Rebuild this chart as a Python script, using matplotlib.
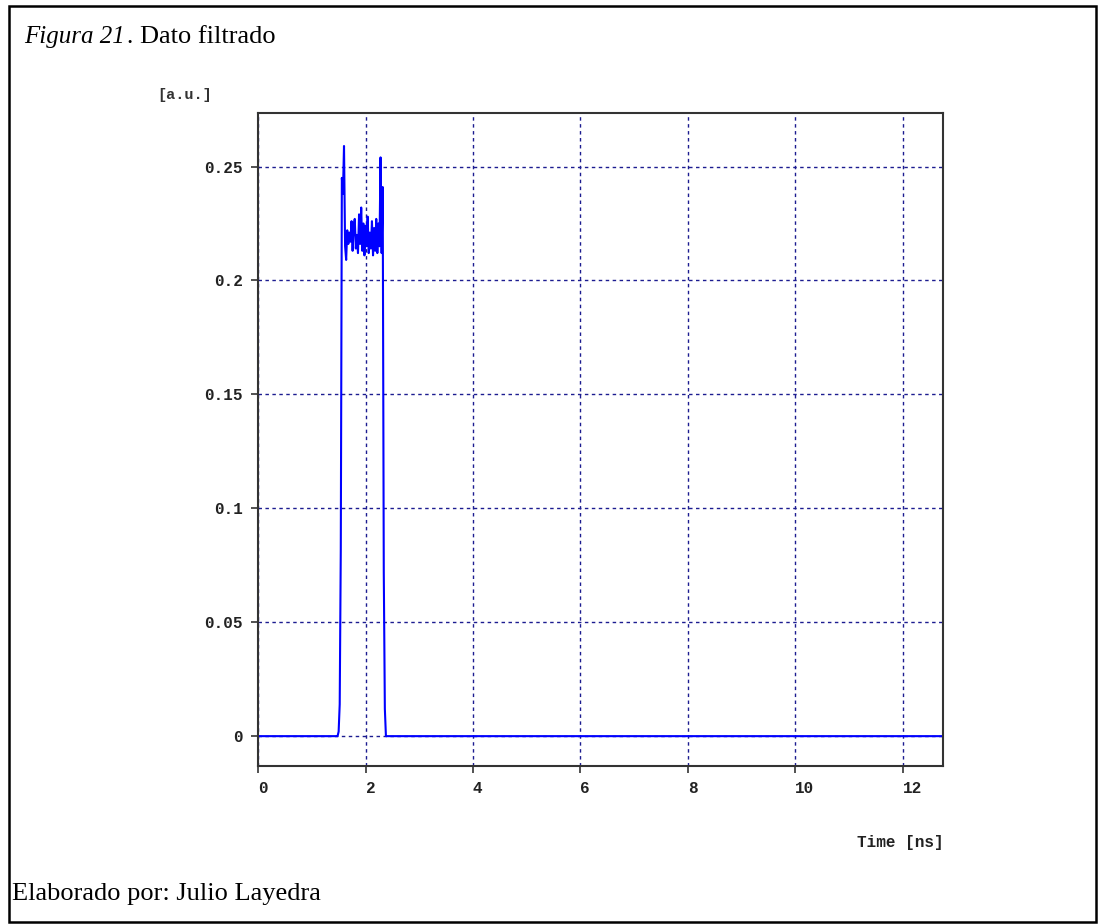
import numpy as np
import matplotlib
matplotlib.use('Agg')
import matplotlib.pyplot as plt
from matplotlib.patches import Rectangle

# filtered pulse, time in ns, amplitude in a.u.
t_pulse = [1.48, 1.50, 1.52, 1.54, 1.56, 1.58, 1.60, 1.62, 1.64, 1.66,
           1.68, 1.70, 1.72, 1.74, 1.76, 1.78, 1.80, 1.82, 1.84, 1.86,
           1.88, 1.90, 1.92, 1.94, 1.96, 1.98, 2.00, 2.02, 2.04, 2.06,
           2.08, 2.10, 2.12, 2.14, 2.16, 2.18, 2.20, 2.22, 2.24, 2.26,
           2.28, 2.30, 2.32, 2.34, 2.36, 2.38]
a_pulse = [0.000, 0.002, 0.014, 0.082, 0.245, 0.238, 0.259, 0.215, 0.209, 0.222,
           0.216, 0.221, 0.217, 0.226, 0.213, 0.224, 0.227, 0.214, 0.220, 0.212,
           0.229, 0.216, 0.232, 0.213, 0.225, 0.211, 0.224, 0.215, 0.228, 0.212,
           0.221, 0.214, 0.226, 0.211, 0.223, 0.213, 0.227, 0.212, 0.225, 0.215,
           0.254, 0.212, 0.241, 0.072, 0.012, 0.000]

t_base_start = [0.0, 1.46]
t_base_end = [2.40, 12.75]

time = np.array(t_base_start + t_pulse + t_base_end)
amp = np.array([0.0, 0.0] + a_pulse + [0.0, 0.0])

xticks = [0, 2, 4, 6, 8, 10, 12]
yticks = [0, 0.05, 0.1, 0.15, 0.2, 0.25]
ytick_labels = ['0', '0.05', '0.1', '0.15', '0.2', '0.25']

mono = 'Liberation Mono'
serif = 'Liberation Serif'

fig = plt.figure(figsize=(10.98, 9.24), dpi=100)
ax = fig.add_axes([0.235, 0.171, 0.624, 0.707])

ax.plot(time, amp, color='#0000ff', lw=1.5)

ax.set_xlim(0, 12.75)
ax.set_ylim(-0.0131, 0.2736)
ax.set_xticks(xticks)
ax.set_yticks(yticks)
ax.set_xticklabels([str(v) for v in xticks])
ax.set_yticklabels(ytick_labels)
for lbl in ax.get_xticklabels():
    lbl.set_horizontalalignment('left')
ax.tick_params(axis='both', direction='out', length=5, width=1.2, color='#333333',
               labelsize=11.5, pad=6)
for lbl in ax.get_xticklabels() + ax.get_yticklabels():
    lbl.set_fontfamily(mono)
    lbl.set_fontweight('bold')
    lbl.set_color('#222222')

ax.grid(True, color='#1c1c90', linestyle=(0, (2.5, 2.5)), lw=1.0)
for s in ax.spines.values():
    s.set_color('#333333')
    s.set_linewidth(1.5)

fig.text(0.143, 0.897, '[a.u.]', family=mono, weight='bold', size=11,
         color='#333333', va='center', ha='left')
fig.text(0.859, 0.088, 'Time [ns]', family=mono, weight='bold', size=11.5,
         color='#222222', va='center', ha='right')

# caption text and border
cap = fig.text(0.022, 0.953, 'Figura 21', family=serif, style='italic', size=18,
               va='baseline', ha='left')
fig.canvas.draw()
bb = cap.get_window_extent().transformed(fig.transFigure.inverted())
fig.text(bb.x1 + 0.001, 0.953, '.', family=serif, size=18, va='baseline', ha='left')
fig.text(0.1275, 0.953, 'Dato filtrado', family=serif, size=19,
         va='baseline', ha='left')
fig.text(0.011, 0.026, 'Elaborado por: Julio Layedra', family=serif, size=19,
         va='baseline', ha='left')
fig.patches.append(Rectangle((0.008, 0.002), 0.99, 0.992, transform=fig.transFigure,
                             fill=False, edgecolor='black', lw=1.8))

fig.savefig('out.png', dpi=100)
